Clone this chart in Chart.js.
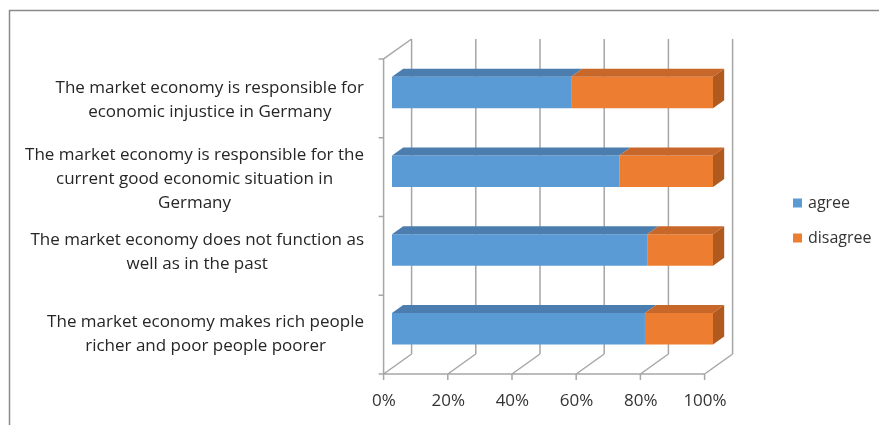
<!DOCTYPE html>
<html>
<head>
<meta charset="utf-8">
<script src="https://cdn.jsdelivr.net/npm/chart.js@4.4.1/dist/chart.umd.min.js"></script>
<style>
  body { margin: 0; background: #fff; }
  #wrap { width: 879px; height: 425px; }
</style>
</head>
<body>
<div id="wrap"><canvas id="chart" width="879" height="425"></canvas></div>
<script>
// survey statements, top to bottom
const categories = [
    ['The market economy is responsible for', 'economic injustice in Germany'],
    ['The market economy is responsible for the', 'current good economic situation in', 'Germany'],
    ['The market economy does not function as', 'well as in the past'],
    ['The market economy makes rich people', 'richer and poor people poorer']
];
const agree = [55.8, 70.8, 79.5, 78.8];
const disagree = [44.2, 29.2, 20.5, 21.2];
const xTicks = [0, 20, 40, 60, 80, 100];
const seriesNames = ['agree', 'disagree'];

var blue = '#5b9bd5'
var orange = '#ed7d31'
var blueTop = '#4b7eae'
var orangeTop = '#c8672a'
var orangeSide = '#b05a20'
var gridGray = '#a6a6a6'
var textGray = '#333333'
var fontFamily = '"Open Sans", sans-serif'

// fake 3d: bars sit between 30% and 70% of the depth
const depth = { dx: 28, dy: -20 };
const barFront = 0.3, barBack = 0.7;

const threeD = {
    id: 'threeD',
    beforeDraw(chart) {
        const ctx = chart.ctx;
        ctx.save();
        ctx.fillStyle = '#fff';
        ctx.fillRect(0, 0, chart.width, chart.height);
        // chart frame (only top + left visible)
        ctx.strokeStyle = '#8a8a8a';
        ctx.lineWidth = 1.5;
        ctx.beginPath();
        ctx.moveTo(9.5, chart.height);
        ctx.lineTo(9.5, 10.5);
        ctx.lineTo(chart.width, 10.5);
        ctx.stroke();
        ctx.restore();
    },
    beforeDatasetsDraw(chart) {
        const ctx = chart.ctx;
        const xs = chart.scales.x;
        const ca = chart.chartArea;
        const fx = -depth.dx * barFront, fy = -depth.dy * barFront;
        const bx = depth.dx * (1 - barFront), by = depth.dy * (1 - barFront);
        const x0 = xs.getPixelForValue(xTicks[0]);
        const x1 = xs.getPixelForValue(xTicks[xTicks.length - 1]);

        ctx.save();
        ctx.strokeStyle = gridGray;
        ctx.lineWidth = 1.5;
        ctx.beginPath();
        for (const v of xTicks) {
            const x = xs.getPixelForValue(v);
            // back wall
            ctx.moveTo(x + bx, ca.top + by);
            ctx.lineTo(x + bx, ca.bottom + by);
            // floor
            ctx.moveTo(x + fx, ca.bottom + fy);
            ctx.lineTo(x + bx, ca.bottom + by);
            // tick below floor
            ctx.moveTo(x + fx, ca.bottom + fy);
            ctx.lineTo(x + fx, ca.bottom + fy + 6);
        }
        ctx.moveTo(x0 + fx, ca.bottom + fy);
        ctx.lineTo(x1 + fx, ca.bottom + fy);
        // left wall
        ctx.moveTo(x0 + fx, ca.bottom + fy);
        ctx.lineTo(x0 + fx, ca.top + fy);
        ctx.lineTo(x0 + bx, ca.top + by);
        const n = categories.length;
        const step = (ca.bottom - ca.top) / n;
        for (let i = 0; i <= n; i++) {
            const y = ca.top + i * step + fy;
            ctx.moveTo(x0 + fx - 5, y);
            ctx.lineTo(x0 + fx, y);
        }
        ctx.stroke();
        ctx.restore();
    },
    afterDatasetsDraw(chart) {
        const ctx = chart.ctx;
        const ddx = depth.dx * (barBack - barFront), ddy = depth.dy * (barBack - barFront);
        const tops = [blueTop, orangeTop];
        const last = chart.data.datasets.length - 1;

        ctx.save();
        chart.data.datasets.forEach((ds, di) => {
            const meta = chart.getDatasetMeta(di);
            meta.data.forEach((bar) => {
                const p = bar.getProps(['x', 'y', 'base', 'height'], true);
                const l = Math.min(p.x, p.base), r = Math.max(p.x, p.base);
                const t = p.y - p.height / 2, b = p.y + p.height / 2;
                ctx.fillStyle = tops[di];
                ctx.beginPath();
                ctx.moveTo(l, t);
                ctx.lineTo(r, t);
                ctx.lineTo(r + ddx, t + ddy);
                ctx.lineTo(l + ddx, t + ddy);
                ctx.closePath();
                ctx.fill();
                if (di === last) {
                    ctx.fillStyle = orangeSide;
                    ctx.beginPath();
                    ctx.moveTo(r, t);
                    ctx.lineTo(r + ddx, t + ddy);
                    ctx.lineTo(r + ddx, b + ddy);
                    ctx.lineTo(r, b);
                    ctx.closePath();
                    ctx.fill();
                }
            });
        });

        // category labels, each block centred, right edge at 364
        const ys = chart.scales.y;
        const lh = 24;
        const nudge = [2, 2, -4, 0];
        ctx.font = '17px ' + fontFamily;
        ctx.fillStyle = '#262626';
        ctx.textBaseline = 'middle';
        ctx.textAlign = 'center';
        categories.forEach((lines, i) => {
            const w = Math.max(...lines.map(s => ctx.measureText(s).width));
            const cx = 364 - w / 2;
            const cy = ys.getPixelForValue(i) - depth.dy * barFront + nudge[i];
            lines.forEach((s, k) => {
                ctx.fillText(s, cx, cy + (k - (lines.length - 1) / 2) * lh);
            });
        });

        // legend
        const legendY = [203, 238];
        const colors = [blue, orange];
        ctx.font = '16px ' + fontFamily;
        ctx.textAlign = 'left';
        seriesNames.forEach((name, i) => {
            ctx.fillStyle = colors[i];
            ctx.fillRect(793, legendY[i] - 4.5, 9, 9);
            ctx.fillStyle = textGray;
            ctx.fillText(name, 808, legendY[i]);
        });
        ctx.restore();
    }
};

var chart = new Chart('chart', {
    type: 'bar',
    data: {
        labels: categories,
        datasets: [{
            label: seriesNames[0],
            data: agree,
            backgroundColor: blue,
            borderWidth: 0
        }, {
            label: seriesNames[1],
            data: disagree,
            backgroundColor: orange,
            borderWidth: 0
        }]
    },
    options: {
        indexAxis: 'y',
        responsive: false,
        animation: false,
        devicePixelRatio: 1,
        layout: { padding: { left: 392, right: 166, top: 53, bottom: 0 } },
        datasets: { bar: { barPercentage: 0.4, categoryPercentage: 1.0 } },
        plugins: {
            legend: { display: false },
            tooltip: { enabled: false }
        },
        scales: {
            x: {
                stacked: true,
                min: 0,
                max: 100,
                afterBuildTicks: (scale) => { scale.ticks = xTicks.map(v => ({ value: v })); },
                afterFit: (scale) => { scale.height = 57; },
                grid: { display: false, drawTicks: false },
                border: { display: false },
                ticks: {
                    callback: (v) => v + '%',
                    labelOffset: -8,
                    padding: 23,
                    color: textGray,
                    font: { family: fontFamily, size: 17 }
                }
            },
            y: {
                stacked: true,
                display: false
            }
        }
    },
    plugins: [threeD]
});
</script>
</body>
</html>
